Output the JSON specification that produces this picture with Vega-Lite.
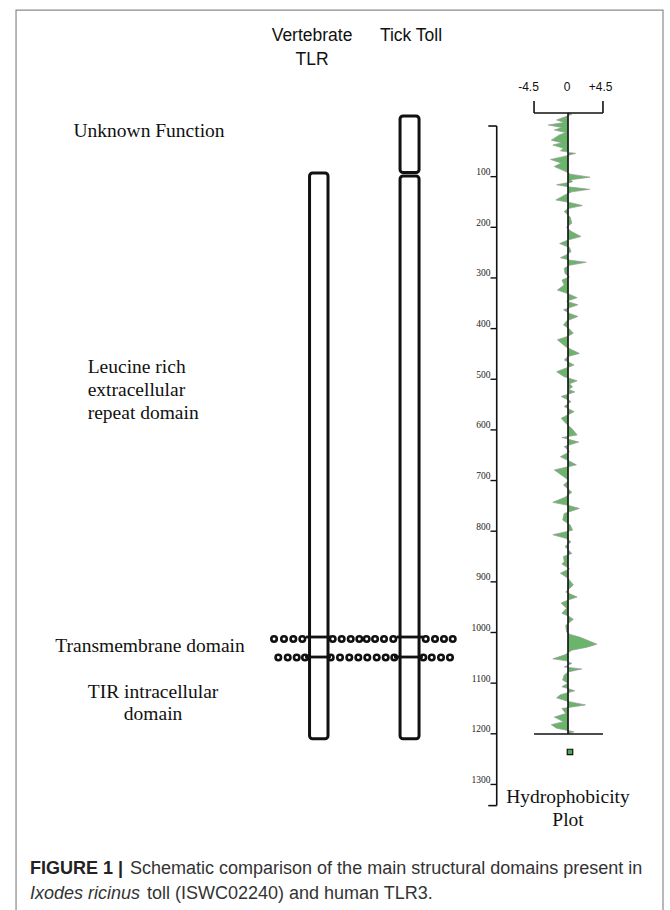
{
  "$schema": "https://vega.github.io/schema/vega-lite/v6.json",
  "width": 670,
  "height": 910,
  "padding": 0,
  "autosize": {"type": "fit", "contains": "padding"},
  "background": "white",
  "config": {"view": {"stroke": null}, "axis": {"disable": true}},
  "datasets": {
    "frame": [{"x": -72.63, "x2": 12.5, "y": -228.9, "y2": 1560}],
    "bars": [
      {"name": "Vertebrate TLR", "x": -34.01, "x2": -31.58, "y": 92.8, "y2": 1209.9},
      {"name": "Tick Toll unknown function", "x": -22.1, "x2": -19.6, "y": -19.7, "y2": 91.8},
      {"name": "Tick Toll main", "x": -22.1, "x2": -19.6, "y": 98.7, "y2": 1209.9}
    ],
    "membraneLines": [
      {"x": -34.47, "x2": -31.18, "y": 1008.9, "y2": 1008.9},
      {"x": -22.54, "x2": -19.08, "y": 1008.9, "y2": 1008.9},
      {"x": -34.6, "x2": -31.2, "y": 1048.4, "y2": 1048.4},
      {"x": -22.9, "x2": -19.1, "y": 1048.4, "y2": 1048.4}
    ],
    "lipids": [
      {"x": -38.68, "y": 1012.8}, {"x": -37.37, "y": 1012.8}, {"x": -36.14, "y": 1012.8}, {"x": -34.96, "y": 1012.8},
      {"x": -30.96, "y": 1012.8}, {"x": -29.78, "y": 1012.8}, {"x": -28.59, "y": 1012.8}, {"x": -27.46, "y": 1012.8},
      {"x": -26.49, "y": 1012.8}, {"x": -25.39, "y": 1012.8}, {"x": -24.21, "y": 1012.8}, {"x": -22.99, "y": 1012.8},
      {"x": -18.72, "y": 1012.8}, {"x": -17.5, "y": 1012.8}, {"x": -16.32, "y": 1012.8}, {"x": -15.17, "y": 1012.8},
      {"x": -38.12, "y": 1049.4}, {"x": -36.88, "y": 1049.4}, {"x": -35.7, "y": 1049.4}, {"x": -34.61, "y": 1049.4},
      {"x": -31.22, "y": 1049.4}, {"x": -30.0, "y": 1049.4}, {"x": -28.78, "y": 1049.4}, {"x": -27.59, "y": 1049.4},
      {"x": -26.41, "y": 1049.4}, {"x": -25.17, "y": 1049.4}, {"x": -23.99, "y": 1049.4}, {"x": -22.86, "y": 1049.4},
      {"x": -19.04, "y": 1049.4}, {"x": -17.93, "y": 1049.4}, {"x": -16.71, "y": 1049.4}, {"x": -15.53, "y": 1049.4}
    ],
    "plotRules": [
      {"x": -4.47, "x2": -4.47, "y": -49.4, "y2": -25.7},
      {"x": 4.6, "x2": 4.6, "y": -49.4, "y2": -25.7},
      {"x": -4.47, "x2": 4.6, "y": -25.7, "y2": -25.7},
      {"x": 0, "x2": 0, "y": -25.7, "y2": 1200.4},
      {"x": -4.47, "x2": 4.6, "y": 1200.4, "y2": 1200.4},
      {"x": -9.38, "x2": -9.38, "y": 0, "y2": 1341.8},
      {"x": -10.49, "x2": -9.38, "y": 0, "y2": 0},
      {"x": -10.49, "x2": -9.38, "y": 1341.8, "y2": 1341.8}
    ],
    "axisTicks": [
      {"x": -10.2, "x2": -9.38, "y": 100, "label": "100"}, {"x": -10.2, "x2": -9.38, "y": 200, "label": "200"},
      {"x": -10.2, "x2": -9.38, "y": 300, "label": "300"}, {"x": -10.2, "x2": -9.38, "y": 400, "label": "400"},
      {"x": -10.2, "x2": -9.38, "y": 500, "label": "500"}, {"x": -10.2, "x2": -9.38, "y": 600, "label": "600"},
      {"x": -10.2, "x2": -9.38, "y": 700, "label": "700"}, {"x": -10.2, "x2": -9.38, "y": 800, "label": "800"},
      {"x": -10.2, "x2": -9.38, "y": 900, "label": "900"}, {"x": -10.2, "x2": -9.38, "y": 1000, "label": "1000"},
      {"x": -10.2, "x2": -9.38, "y": 1100, "label": "1100"}, {"x": -10.2, "x2": -9.38, "y": 1200, "label": "1200"},
      {"x": -10.2, "x2": -9.38, "y": 1300, "label": "1300"}
    ],
    "hydro": [
      {"residue": -26, "kd": 0}, {"residue": -23, "kd": 0.5}, {"residue": -12, "kd": -1.5}, {"residue": -7, "kd": -0.5},
      {"residue": -2, "kd": -2.6}, {"residue": 3, "kd": -0.8}, {"residue": 8, "kd": -1.8}, {"residue": 13, "kd": -0.3},
      {"residue": 18, "kd": -1.2}, {"residue": 28, "kd": -2.2}, {"residue": 33, "kd": -0.8}, {"residue": 37.5, "kd": -2.0},
      {"residue": 44, "kd": -0.6}, {"residue": 49, "kd": -1.0}, {"residue": 54, "kd": 1.0}, {"residue": 60, "kd": -0.5},
      {"residue": 66, "kd": -2.3}, {"residue": 73, "kd": -0.9}, {"residue": 80, "kd": -1.8}, {"residue": 90, "kd": -0.3},
      {"residue": 95, "kd": 0.3}, {"residue": 101, "kd": 2.9}, {"residue": 106, "kd": 0.4}, {"residue": 110, "kd": 0.6},
      {"residue": 116, "kd": -1.5}, {"residue": 120, "kd": 0}, {"residue": 125, "kd": 2.85}, {"residue": 130, "kd": 0.5},
      {"residue": 136, "kd": -0.4}, {"residue": 146, "kd": -1.6}, {"residue": 151, "kd": 0.2}, {"residue": 157, "kd": 1.9},
      {"residue": 163, "kd": 0}, {"residue": 169, "kd": -0.5}, {"residue": 180, "kd": 0.3}, {"residue": 192, "kd": 0.5},
      {"residue": 200, "kd": -0.2}, {"residue": 208, "kd": 0.4}, {"residue": 218, "kd": 1.7}, {"residue": 225, "kd": 0},
      {"residue": 232, "kd": -1.1}, {"residue": 240, "kd": 0.2}, {"residue": 248, "kd": 0.4}, {"residue": 255, "kd": -0.3},
      {"residue": 260, "kd": -1.0}, {"residue": 265, "kd": 0.3}, {"residue": 269, "kd": 2.4}, {"residue": 275, "kd": 0.2},
      {"residue": 281, "kd": -0.5}, {"residue": 291, "kd": -0.4}, {"residue": 298, "kd": 0.2}, {"residue": 304, "kd": -0.8},
      {"residue": 314, "kd": -0.5}, {"residue": 324, "kd": -1.4}, {"residue": 331, "kd": 0}, {"residue": 339, "kd": 1.2},
      {"residue": 346, "kd": -0.2}, {"residue": 353, "kd": 1.3}, {"residue": 363, "kd": -0.6}, {"residue": 370, "kd": 0.2},
      {"residue": 376, "kd": 1.3}, {"residue": 385, "kd": -0.2}, {"residue": 393, "kd": -0.6}, {"residue": 401, "kd": 0.2},
      {"residue": 409, "kd": 0.7}, {"residue": 415, "kd": 0}, {"residue": 422, "kd": -1.4}, {"residue": 436, "kd": -0.3},
      {"residue": 449, "kd": 1.5}, {"residue": 455, "kd": 0}, {"residue": 462, "kd": -0.5}, {"residue": 472, "kd": 0.8},
      {"residue": 485, "kd": -1.5}, {"residue": 495, "kd": -0.5}, {"residue": 503, "kd": 1.2}, {"residue": 509, "kd": 0.2},
      {"residue": 515, "kd": 0.6}, {"residue": 520, "kd": 0.1}, {"residue": 525, "kd": 0.9}, {"residue": 534, "kd": -0.9},
      {"residue": 544, "kd": 0.4}, {"residue": 554, "kd": -0.5}, {"residue": 564, "kd": 0.8}, {"residue": 577, "kd": -0.9},
      {"residue": 587, "kd": -0.3}, {"residue": 597, "kd": 0.5}, {"residue": 610, "kd": 1.2}, {"residue": 615, "kd": -0.8},
      {"residue": 624, "kd": 1.4}, {"residue": 633, "kd": -0.5}, {"residue": 643, "kd": 0.2}, {"residue": 653, "kd": -1.0},
      {"residue": 661, "kd": 0.1}, {"residue": 669, "kd": 1.1}, {"residue": 679, "kd": -1.8}, {"residue": 692, "kd": -0.6},
      {"residue": 700, "kd": 0.1}, {"residue": 709, "kd": -0.6}, {"residue": 723, "kd": 0.5}, {"residue": 733, "kd": -0.4},
      {"residue": 743, "kd": -2.0}, {"residue": 749, "kd": 0}, {"residue": 755, "kd": 1.5}, {"residue": 765, "kd": -0.5},
      {"residue": 778, "kd": -0.7}, {"residue": 788, "kd": 0.3}, {"residue": 798, "kd": 0.6}, {"residue": 807, "kd": -2.0},
      {"residue": 814, "kd": -0.3}, {"residue": 821, "kd": 0.4}, {"residue": 830, "kd": -0.4}, {"residue": 844, "kd": 0.5},
      {"residue": 850, "kd": -0.6}, {"residue": 860, "kd": -0.5}, {"residue": 865, "kd": -0.8}, {"residue": 874, "kd": 0.2},
      {"residue": 883, "kd": -1.0}, {"residue": 893, "kd": 0}, {"residue": 906, "kd": 0.7}, {"residue": 920, "kd": -0.3},
      {"residue": 930, "kd": 1.2}, {"residue": 936, "kd": 0}, {"residue": 942, "kd": -0.9}, {"residue": 952, "kd": -0.2},
      {"residue": 962, "kd": -0.8}, {"residue": 968, "kd": 0.1}, {"residue": 974, "kd": 0.7}, {"residue": 986, "kd": -0.3},
      {"residue": 999, "kd": -0.2}, {"residue": 1004, "kd": 0.3}, {"residue": 1009, "kd": 1.5}, {"residue": 1015, "kd": 2.5},
      {"residue": 1023, "kd": 3.8}, {"residue": 1029, "kd": 2.5}, {"residue": 1035, "kd": 0.5}, {"residue": 1044, "kd": -0.4},
      {"residue": 1052, "kd": -2.0}, {"residue": 1056, "kd": -0.2}, {"residue": 1061, "kd": 0.5}, {"residue": 1068, "kd": -0.5},
      {"residue": 1072, "kd": 1.8}, {"residue": 1078, "kd": 0}, {"residue": 1084, "kd": -0.5}, {"residue": 1094, "kd": -0.7},
      {"residue": 1100, "kd": 0}, {"residue": 1107, "kd": -0.8}, {"residue": 1115, "kd": 0.9}, {"residue": 1123, "kd": -1.0},
      {"residue": 1129, "kd": -1.5}, {"residue": 1136, "kd": 0}, {"residue": 1143, "kd": 2.3}, {"residue": 1150, "kd": -0.8},
      {"residue": 1160, "kd": -0.3}, {"residue": 1167, "kd": -1.8}, {"residue": 1176, "kd": -0.6}, {"residue": 1182, "kd": -2.2},
      {"residue": 1189, "kd": -1.5}, {"residue": 1196, "kd": 0.8}, {"residue": 1200, "kd": 0}
    ],
    "legendSquare": [{"x": 0.26, "y": 1235.9}],
    "serifLeft": [
      {"x": -65.07, "y": 9.1, "text": "Unknown Function"},
      {"x": -63.2, "y": 475.4, "text": "Leucine rich"},
      {"x": -63.2, "y": 521.2, "text": "extracellular"},
      {"x": -63.2, "y": 566.0, "text": "repeat domain"}
    ],
    "serifCenter": [
      {"x": -55.0, "y": 1026.6, "text": "Transmembrane domain"},
      {"x": -54.6, "y": 1117.1, "text": "TIR intracellular"},
      {"x": -54.6, "y": 1161.9, "text": "domain"},
      {"x": 0, "y": 1325.6, "text": "Hydrophobicity"},
      {"x": 0, "y": 1370.2, "text": "Plot"}
    ],
    "columnHeads": [
      {"x": -33.68, "y": -177.7, "text": "Vertebrate"},
      {"x": -33.68, "y": -130.7, "text": "TLR"},
      {"x": -20.66, "y": -177.7, "text": "Tick Toll"}
    ],
    "kdScale": [
      {"x": -5.2, "y": -77, "text": "-4.5"},
      {"x": -0.13, "y": -77, "text": "0"},
      {"x": 4.28, "y": -77, "text": "+4.5"}
    ],
    "captionBold": [{"x": -70.79, "y": 1466.6, "text": "FIGURE 1 |"}],
    "captionRegular": [
      {"x": -57.63, "y": 1466.6, "text": "Schematic comparison of the main structural domains present in"},
      {"x": -55.4, "y": 1515.9, "text": "toll (ISWC02240) and human TLR3."}
    ],
    "captionItalic": [{"x": -70.79, "y": 1515.9, "text": "Ixodes ricinus"}]
  },
  "encoding": {
    "x": {"field": "x", "type": "quantitative", "scale": {"domain": [-74.74, 13.42], "nice": false, "zero": false}, "axis": null},
    "y": {"field": "y", "type": "quantitative", "scale": {"domain": [-248.8, 1547.9], "nice": false, "zero": false, "reverse": true}, "axis": null}
  },
  "layer": [
    {
      "data": {"name": "frame"},
      "mark": {"type": "rect", "fill": null, "stroke": "#8a8a8a", "strokeWidth": 1.2, "clip": true},
      "encoding": {"x2": {"field": "x2"}, "y2": {"field": "y2"}}
    },
    {
      "data": {"name": "hydro"},
      "mark": {"type": "area", "orient": "horizontal", "interpolate": "linear", "fill": "#4fa84f", "fillOpacity": 0.85, "stroke": "#9a9a9a", "strokeWidth": 0.7},
      "encoding": {
        "x": {"field": "kd", "type": "quantitative", "stack": null, "scale": {"domain": [-74.74, 13.42], "nice": false, "zero": false}, "axis": null},
        "x2": {"datum": 0},
        "y": {"field": "residue", "type": "quantitative", "scale": {"domain": [-248.8, 1547.9], "nice": false, "zero": false, "reverse": true}, "axis": null}
      }
    },
    {
      "data": {"name": "plotRules"},
      "mark": {"type": "rule", "color": "#111", "strokeWidth": 1.6},
      "encoding": {"x2": {"field": "x2"}, "y2": {"field": "y2"}}
    },
    {
      "data": {"name": "axisTicks"},
      "mark": {"type": "rule", "color": "#111", "strokeWidth": 1.4},
      "encoding": {"x2": {"field": "x2"}}
    },
    {
      "data": {"name": "axisTicks"},
      "mark": {"type": "text", "font": "Liberation Serif", "fontSize": 9.5, "align": "right", "baseline": "alphabetic", "dy": -1.5, "color": "#222"},
      "encoding": {"text": {"field": "label"}}
    },
    {
      "data": {"name": "legendSquare"},
      "mark": {"type": "point", "shape": "square", "filled": true, "size": 30, "color": "#4fa84f", "stroke": "#111", "strokeWidth": 1.2, "opacity": 1}
    },
    {
      "data": {"name": "bars"},
      "mark": {"type": "rect", "fill": "white", "stroke": "#111", "strokeWidth": 3, "cornerRadius": 3},
      "encoding": {"x2": {"field": "x2"}, "y2": {"field": "y2"}}
    },
    {
      "data": {"name": "membraneLines"},
      "mark": {"type": "rule", "color": "#111", "strokeWidth": 2.8},
      "encoding": {"x2": {"field": "x2"}, "y2": {"field": "y2"}}
    },
    {
      "data": {"name": "lipids"},
      "mark": {"type": "point", "shape": "circle", "filled": false, "size": 30, "stroke": "#111", "strokeWidth": 2.6, "opacity": 1}
    },
    {
      "data": {"name": "serifLeft"},
      "mark": {"type": "text", "font": "Liberation Serif", "fontSize": 19.5, "align": "left", "baseline": "middle", "color": "#111"},
      "encoding": {"text": {"field": "text"}}
    },
    {
      "data": {"name": "serifCenter"},
      "mark": {"type": "text", "font": "Liberation Serif", "fontSize": 19.5, "align": "center", "baseline": "middle", "color": "#111"},
      "encoding": {"text": {"field": "text"}}
    },
    {
      "data": {"name": "columnHeads"},
      "mark": {"type": "text", "font": "Liberation Sans", "fontSize": 17.5, "align": "center", "baseline": "middle", "color": "#111"},
      "encoding": {"text": {"field": "text"}}
    },
    {
      "data": {"name": "kdScale"},
      "mark": {"type": "text", "font": "Liberation Sans", "fontSize": 12, "align": "center", "baseline": "middle", "color": "#111"},
      "encoding": {"text": {"field": "text"}}
    },
    {
      "data": {"name": "captionBold"},
      "mark": {"type": "text", "font": "Liberation Sans", "fontSize": 18, "fontWeight": "bold", "align": "left", "baseline": "middle", "color": "#222"},
      "encoding": {"text": {"field": "text"}}
    },
    {
      "data": {"name": "captionRegular"},
      "mark": {"type": "text", "font": "Liberation Sans", "fontSize": 18, "align": "left", "baseline": "middle", "color": "#333"},
      "encoding": {"text": {"field": "text"}}
    },
    {
      "data": {"name": "captionItalic"},
      "mark": {"type": "text", "font": "Liberation Sans", "fontSize": 18, "fontStyle": "italic", "align": "left", "baseline": "middle", "color": "#333"},
      "encoding": {"text": {"field": "text"}}
    }
  ]
}
